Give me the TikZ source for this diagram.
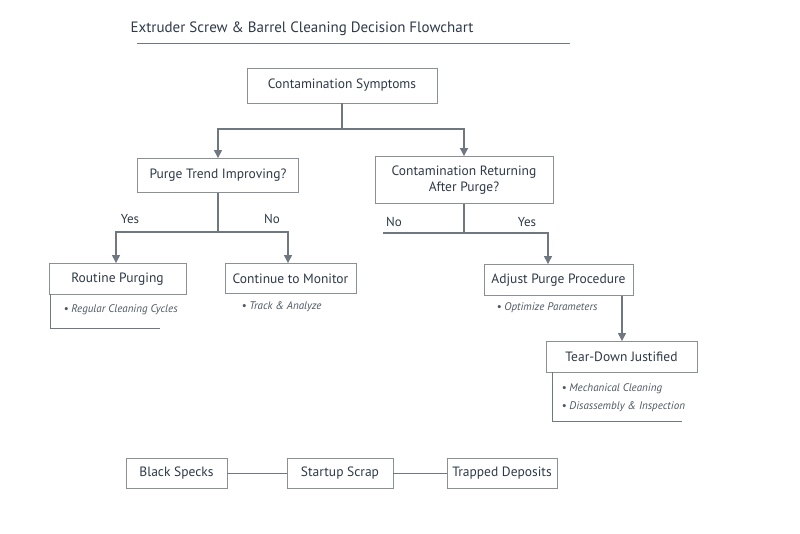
\documentclass[tikz,border=0pt]{standalone}
\usepackage{fontspec}
\setmainfont{PT Sans}
\usetikzlibrary{arrows.meta}
\definecolor{tx}{HTML}{2E3A48}
\definecolor{ln}{HTML}{6F7780}
\definecolor{bx}{HTML}{8A9096}
\begin{document}
\begin{tikzpicture}[x=1pt,y=-1pt,
  box/.style={draw=bx,line width=0.9pt,fill=white,text=tx,font=\fontsize{13.5}{16}\selectfont,inner sep=0pt,align=center},
  lab/.style={text=tx,font=\fontsize{13}{15}\selectfont},
  bul/.style={text=tx!85,font=\itshape\fontsize{11}{13}\selectfont,anchor=west},
  con/.style={draw=ln,line width=1.3pt},
  arr/.style={con,-{Triangle[width=8pt,length=8pt]}}]
\useasboundingbox (0,0) rectangle (800,533);
\node[text=tx,font=\fontsize{15}{18}\selectfont] (title) at (302,29) {Extruder Screw \& Barrel Cleaning Decision Flowchart};
\draw[ln,line width=0.9pt] (137,43) coordinate (t1) -- (570,43) coordinate (t2);
\node[box,minimum width=190pt,minimum height=35pt] (cs) at (342,85.5) {Contamination Symptoms};
\node[box,minimum width=161pt,minimum height=34pt] (pt) at (218,175.5) {Purge Trend Improving?};
\node[box,minimum width=178pt,minimum height=47pt] (cr) at (464,180) {Contamination Returning\\After Purge?};
\node[box,minimum width=137pt,minimum height=31pt] (rp) at (117.5,279) {Routine Purging};
\node[box,minimum width=131pt,minimum height=30pt] (cm) at (290.5,278.5) {Continue to Monitor};
\node[box,minimum width=149pt,minimum height=31pt] (ap) at (558.5,280) {Adjust Purge Procedure};
\node[box,minimum width=151pt,minimum height=31pt] (td) at (621.5,357) {Tear-Down Justified};
\node[box,minimum width=101pt,minimum height=30pt] (bs) at (176.5,473.5) {Black Specks};
\node[box,minimum width=106pt,minimum height=30pt] (ss) at (340,473.5) {Startup Scrap};
\node[box,minimum width=110pt,minimum height=30pt] (tdp) at (502,473.5) {Trapped Deposits};
% top split
\coordinate (j1) at (342,129);
\draw[con] (cs.south) -- (j1);
\draw[arr] (j1) -| (pt.north);
\draw[arr] (j1) -| (cr.north);
% purge trend split
\coordinate (j2) at (218,232);
\draw[con] (pt.south) -- (j2);
\draw[arr] (j2) -| (rp.north -| 116,0);
\draw[arr] (j2) -| (cm.north -| 288,0);
\node[lab] (y1) at (130,219) {Yes};
\node[lab] (n1) at (272,219) {No};
% contamination returning split
\coordinate (j3) at (464,233);
\coordinate (nofree) at (383,233);
\draw[con] (cr.south) -- (j3);
\draw[con] (j3) -- (nofree);
\draw[arr] (j3) -| (ap.north -| 548,0);
\node[lab] (n2) at (394,222) {No};
\node[lab] (y2) at (527,222) {Yes};
\draw[arr] (ap.south -| 622,0) -- (td.north -| 622,0);
% bullets
\draw[ln,line width=0.9pt] (50,294) -- (50,328) -- (160,328);
\node[bul] (b1) at (60,310) {•\ Regular Cleaning Cycles};
\node[bul] (b2) at (238,307) {•\ Track \& Analyze};
\node[bul] (b3) at (493,308) {•\ Optimize Parameters};
\draw[ln,line width=0.9pt] (552,372) -- (552,421) -- (682,421);
\node[bul] (b4) at (558,389) {•\ Mechanical Cleaning};
\node[bul] (b5) at (558,407) {•\ Disassembly \& Inspection};
% bottom
\draw[con,line width=1pt] (bs) -- (ss);
\draw[con,line width=1pt] (ss) -- (tdp);
\end{tikzpicture}
\end{document}
